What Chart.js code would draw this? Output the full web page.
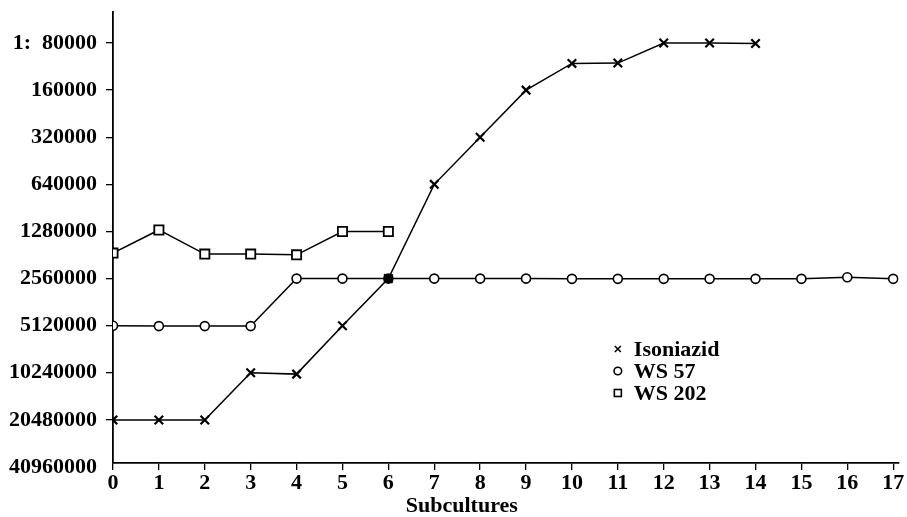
<!DOCTYPE html>
<html><head><meta charset="utf-8">
<script src="https://cdn.jsdelivr.net/npm/chart.js@4.4.0/dist/chart.umd.min.js"></script>
<style>html,body{margin:0;padding:0;background:#fff;} #wrap{width:907px;height:517px;position:relative;}</style>
</head><body><div id="wrap"><canvas id="c" width="907" height="517"></canvas></div>
<script>
const subcultures = [0,1,2,3,4,5,6,7,8,9,10,11,12,13,14,15,16,17];
const isoniazid = [20480000,20480000,20480000,10240000,10440000,5120000,2560000,640000,320000,160000,108000,107500,80000,80000,80500];
const ws57 = [5120000,5150000,5150000,5150000,2560000,2560000,2560000,2560000,2560000,2560000,2570000,2570000,2570000,2570000,2570000,2570000,2510000,2570000];
const ws202 = [1760000,1252000,1786000,1786000,1805000,1280000,1280000];
const yTicks = [80000,160000,320000,640000,1280000,2560000,5120000,10240000,20480000,40960000];
const xTicks = subcultures;
const seriesNames = ['Isoniazid','WS 57','WS 202'];
const xTitle = 'Subcultures';

const FONT = '"Liberation Serif", serif';
const toPts = arr => arr.map((v,i)=>({x:subcultures[i], y:v}));

const overlay = {
  id:'overlay',
  afterDraw(chart){
    const ctx = chart.ctx, xs = chart.scales.x, ca = chart.chartArea;
    ctx.save();
    ctx.fillStyle = '#000'; ctx.strokeStyle = '#000';
    // x title
    ctx.font = 'bold 22px ' + FONT;
    ctx.textAlign = 'center'; ctx.textBaseline = 'middle';
    ctx.fillText(xTitle, xs.getPixelForValue(7.6), 506);
    // legend
    const mx = xs.getPixelForValue(11) , tx = mx + 16;
    const rows = [ca.top + 337, ca.top + 359, ca.top + 381];
    ctx.font = 'bold 22px ' + FONT;
    ctx.textAlign = 'left';
    rows.forEach((y,i)=>{
      ctx.lineWidth = 1.6;
      if(i===0){
        ctx.beginPath(); ctx.moveTo(mx-3,y-3); ctx.lineTo(mx+3,y+3); ctx.moveTo(mx+3,y-3); ctx.lineTo(mx-3,y+3); ctx.stroke();
      } else if(i===1){
        ctx.beginPath(); ctx.arc(mx,y,3.8,0,Math.PI*2); ctx.stroke();
      } else {
        ctx.strokeRect(mx-3.5,y-3.5,7,7);
      }
      ctx.fillText(seriesNames[i], tx, y+1);
    });
    ctx.restore();
  }
};

new Chart(document.getElementById('c'), {
  type:'line',
  data:{datasets:[
    {label:seriesNames[0], data:toPts(isoniazid), borderColor:'#000', borderWidth:1.5, pointStyle:'crossRot', pointRadius:6, pointBorderWidth:2.2, pointBorderColor:'#000', pointBackgroundColor:'#000', tension:0},
    {label:seriesNames[1], data:toPts(ws57), borderColor:'#000', borderWidth:1.5, pointStyle:'circle', pointRadius:4.5, pointBorderWidth:1.6, pointBorderColor:'#000', pointBackgroundColor: c => (c.dataIndex===6 ? '#000' : '#fff'), tension:0},
    {label:seriesNames[2], data:toPts(ws202), borderColor:'#000', borderWidth:1.5, pointStyle:'rect', pointRadius:6.5, pointBorderWidth:1.8, pointBorderColor:'#000', pointBackgroundColor:'#fff', tension:0}
  ]},
  options:{
    responsive:false, animation:false,
    layout:{padding:{top:12,right:1,left:0,bottom:0}},
    plugins:{legend:{display:false}, tooltip:{enabled:false}},
    scales:{
      x:{type:'linear', min:0, max:17.12,
        afterBuildTicks: s => { s.ticks = xTicks.map(v=>({value:v})); },
        grid:{drawOnChartArea:false, drawTicks:true, tickLength:7, color:'#000', lineWidth:1.3},
        border:{display:true, color:'#000', width:1.8},
        ticks:{color:'#000', font:{family:FONT, weight:'bold', size:22}, padding:0, maxRotation:0, autoSkip:false},
        afterFit: s => { s.height = 54; s.paddingLeft = 0; s.paddingRight = 0; }
      },
      y:{type:'logarithmic', reverse:true, min:50700, max:38600000,
        afterBuildTicks: s => { s.ticks = yTicks.map(v=>({value:v})); },
        grid:{drawOnChartArea:false, drawTicks:true, tickLength:7, lineWidth:1.3,
          color: c => (c.tick && c.tick.value === 40960000 ? 'rgba(0,0,0,0)' : '#000')},
        border:{display:true, color:'#000', width:1.8},
        ticks:{color:'#000', font:{family:FONT, weight:'bold', size:22}, padding:9, autoSkip:false,
          callback: v => (v === 80000 ? '1:  80000' : String(v))},
        afterFit: s => { s.width = 113; s.paddingTop = 0; s.paddingBottom = 0; }
      }
    }
  },
  plugins:[overlay]
});
</script>
</body></html>
